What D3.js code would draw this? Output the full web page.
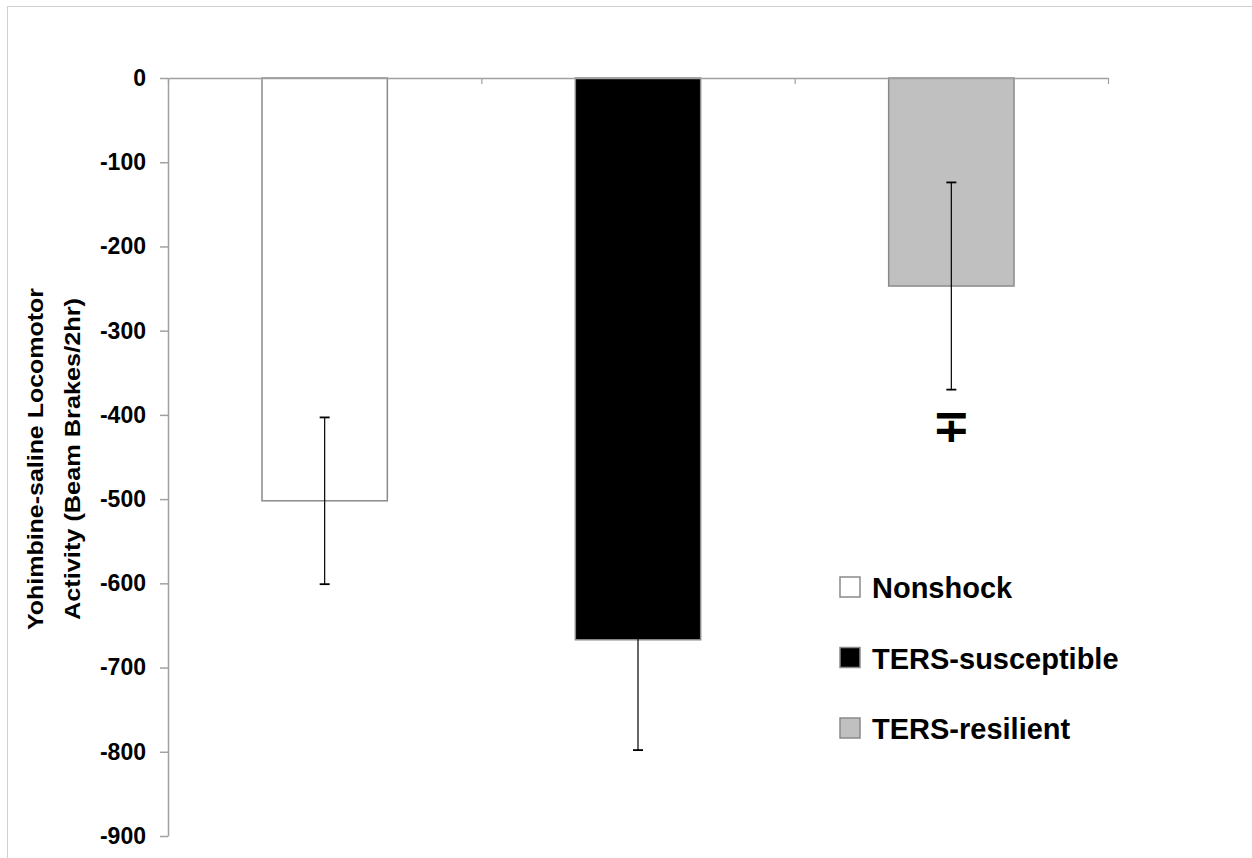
<!DOCTYPE html>
<html>
<head>
<meta charset="utf-8">
<script src="https://cdn.jsdelivr.net/npm/d3@7"></script>
<style>
  body { margin: 0; background: #fff; }
  svg { display: block; }
  .tick text { font-family: "Liberation Sans", Arial, sans-serif; font-weight: bold; }
</style>
</head>
<body>
<svg id="chart"></svg>
<script>
// chart data
const groups = ['Nonshock', 'TERS-susceptible', 'TERS-resilient'];
const means = [-502, -667, -247];
const errors = [99, 131, 123];
const fills = ['#ffffff', '#000000', '#c0c0c0'];
const yTicks = [0, -100, -200, -300, -400, -500, -600, -700, -800, -900];
const marks = ['', '', '\u2213'];
const yTitle = ['Yohimbine-saline  Locomotor', 'Activity (Beam Brakes/2hr)'];

const width = 1252, height = 858;
const margin = {top: 78, right: 144, bottom: 22, left: 168};

const svg = d3.select('#chart')
    .attr('width', width)
    .attr('height', height);

// outer frame
svg.append('rect')
    .attr('x', 7.5).attr('y', 6.5)
    .attr('width', width).attr('height', height)
    .attr('fill', 'none')
    .attr('stroke', '#d0d0d0');

let x = d3.scaleBand()
    .domain(groups)
    .range([margin.left, width - margin.right])
    .padding(0);

let y = d3.scaleLinear()
    .domain([0, -900])
    .range([margin.top, height - margin.bottom]);

let slots = d3.scaleLinear()
    .domain([0, groups.length])
    .range([margin.left, width - margin.right]);

const barW = x.bandwidth() * 0.4;

// bars
svg.selectAll('.bar')
    .data(groups)
    .enter()
    .append('rect')
    .attr('class', 'bar')
    .attr('x', (d) => x(d) + (x.bandwidth() - barW) / 2)
    .attr('y', y(0))
    .attr('width', barW)
    .attr('height', (d, i) => y(means[i]) - y(0))
    .attr('fill', (d, i) => fills[i])
    .attr('stroke', '#8a8a8a')
    .attr('stroke-width', 1.5);

// error bars
let err = svg.selectAll('.err')
    .data(groups)
    .enter()
    .append('g')
    .attr('class', 'err')
    .attr('stroke', '#000')
    .attr('stroke-width', 1.2);

err.append('line')
    .attr('x1', (d) => x(d) + x.bandwidth() / 2)
    .attr('x2', (d) => x(d) + x.bandwidth() / 2)
    .attr('y1', (d, i) => y(means[i] + errors[i]))
    .attr('y2', (d, i) => y(means[i] - errors[i]));

[1, -1].forEach((s) => {
  err.append('line')
      .attr('x1', (d) => x(d) + x.bandwidth() / 2 - 5)
      .attr('x2', (d) => x(d) + x.bandwidth() / 2 + 5)
      .attr('y1', (d, i) => y(means[i] + s * errors[i]))
      .attr('y2', (d, i) => y(means[i] + s * errors[i]))
      .attr('stroke-width', 1.8);
});

// significance mark
svg.selectAll('.mark')
    .data(groups)
    .enter()
    .append('text')
    .attr('class', 'mark')
    .attr('x', (d) => x(d) + x.bandwidth() / 2)
    .attr('y', (d, i) => y(means[i] - errors[i]) + 52)
    .attr('text-anchor', 'middle')
    .attr('font-family', 'DejaVu Sans, sans-serif')
    .attr('font-weight', 'bold')
    .attr('font-size', 46)
    .text((d, i) => marks[i]);

// axes
let xAxis = svg.append('g')
    .attr('transform', 'translate(0,' + y(0) + ')')
    .call(d3.axisBottom(slots).ticks(3).tickSize(6).tickSizeOuter(0).tickFormat(''));

let yAxis = svg.append('g')
    .attr('transform', 'translate(' + margin.left + ',0)')
    .call(d3.axisLeft(y).tickValues(yTicks).tickSize(8).tickSizeOuter(0).tickPadding(14)
      .tickFormat((d) => String(d)));

[xAxis, yAxis].forEach((a) => {
  a.selectAll('path, line').attr('stroke', '#a0a0a0').attr('stroke-width', 1.5);
});
xAxis.selectAll('.tick line').attr('stroke-width', 1.2);
yAxis.selectAll('.tick text').attr('font-size', 23).attr('fill', '#000');

// y title
yTitle.forEach((t, i) => {
  svg.append('text')
      .attr('transform', 'translate(' + (43 + i * 37) + ',459) rotate(-90)')
      .attr('text-anchor', 'middle')
      .attr('font-family', 'Liberation Sans, Arial, sans-serif')
      .attr('font-weight', 'bold')
      .attr('font-size', 22)
      .attr('textLength', i === 0 ? 342 : 322)
      .attr('lengthAdjust', 'spacingAndGlyphs')
      .text(t);
});

// legend
let legend = svg.selectAll('.legend')
    .data(groups)
    .enter()
    .append('g')
    .attr('class', 'legend')
    .attr('transform', (d, i) => 'translate(840,' + (577 + i * 70.5) + ')');

legend.append('rect')
    .attr('width', 20)
    .attr('height', 20)
    .attr('fill', (d, i) => fills[i])
    .attr('stroke', '#8a8a8a')
    .attr('stroke-width', 1.5);

legend.append('text')
    .attr('x', 32)
    .attr('y', 21)
    .attr('font-family', 'Liberation Sans, Arial, sans-serif')
    .attr('font-weight', 'bold')
    .attr('font-size', 29)
    .text((d) => d);
</script>
</body>
</html>
